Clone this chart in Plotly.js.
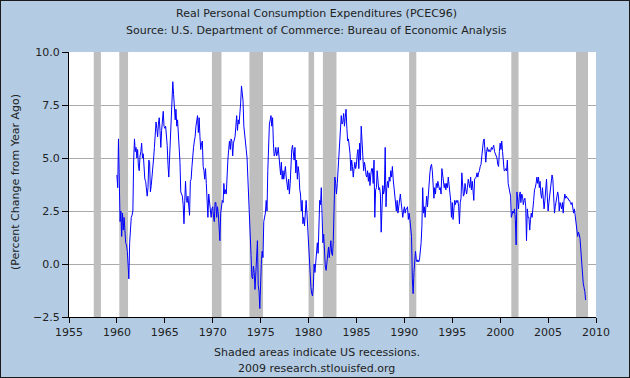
<!DOCTYPE html>
<html><head><meta charset="utf-8">
<script src="https://cdn.plot.ly/plotly-3.0.1.min.js"></script>
<style>
html,body{margin:0;padding:0;background:#b3cce4;}
#frame{width:630px;height:378px;box-sizing:border-box;border:1px solid #1a1a1a;background:#b3cce4;overflow:hidden;}
#chart{width:628px;height:376px;}
</style>
</head><body><div id="frame"><div id="chart"></div></div>
<script>
// Monthly year-over-year % change, starting January 1960
const startYear = 1960;
const pceYoY = [
  4.2, 3.6, 5.9, 4.2, 2.0, 2.5, 1.3, 2.4, 1.6, 2.2, 1.3, 1.0,   // 1960
  0.9, 0.6, 0.0, -0.7, 1.0, 1.9, 2.2, 2.3, 2.5, 4.9, 5.9, 5.3, // 1961
  5.5, 5.0, 5.4, 4.6, 4.4, 5.1, 5.3, 5.7, 5.0, 5.2, 4.4, 4.0,  // 1962
  3.9, 3.5, 3.2, 3.6, 4.9, 4.8, 3.4, 3.7, 4.3, 4.7, 5.0, 5.5,  // 1963
  6.0, 6.7, 6.4, 6.0, 6.6, 6.9, 6.3, 5.5, 6.3, 6.8, 7.2, 6.5,  // 1964
  6.4, 6.5, 6.2, 5.6, 4.7, 4.1, 5.0, 5.8, 6.6, 7.6, 8.6, 8.0,  // 1965
  7.4, 6.8, 7.3, 6.5, 6.8, 6.2, 5.5, 4.8, 3.4, 3.3, 3.2, 2.8,  // 1966
  1.9, 3.0, 3.9, 3.0, 2.9, 3.2, 2.7, 2.3, 3.9, 4.0, 4.6, 5.3,  // 1967
  5.5, 5.8, 6.0, 6.5, 6.9, 7.0, 6.2, 6.9, 6.0, 5.4, 5.7, 5.8,  // 1968
  4.6, 4.4, 4.0, 4.5, 3.8, 2.7, 2.2, 3.3, 2.9, 2.7, 2.2, 2.6,  // 1969
  2.7, 2.2, 2.0, 2.9, 2.9, 2.2, 2.7, 2.4, 1.6, 1.1, 2.4, 2.8,  // 1970
  3.0, 2.9, 3.8, 3.3, 3.5, 3.3, 4.3, 4.9, 5.4, 5.8, 5.4, 5.9,  // 1971
  5.8, 5.1, 5.7, 5.9, 6.0, 6.5, 7.0, 6.3, 6.8, 6.6, 7.0, 7.6,  // 1972
  8.4, 8.0, 7.7, 6.5, 6.0, 5.7, 5.4, 5.0, 4.2, 3.5, 2.2, 1.2,  // 1973
  0.4, -0.6, -0.7, -0.1, -0.4, -1.2, -0.4, 0.2, 1.1, -1.0, -1.3, -2.1, // 1974
  -0.2, 0.2, 0.6, 0.3, 2.0, 2.2, 2.4, 3.0, 2.5, 4.4, 5.8, 6.6, // 1975
  6.8, 7.0, 6.5, 6.9, 5.7, 5.1, 5.2, 5.5, 5.1, 5.2, 5.5, 5.0,  // 1976
  4.6, 4.2, 4.8, 4.0, 4.4, 4.0, 4.3, 4.6, 4.1, 3.6, 3.5, 4.0,  // 1977
  3.3, 3.8, 5.1, 5.4, 5.6, 5.1, 4.9, 5.5, 4.3, 4.9, 4.0, 4.6,  // 1978
  4.3, 3.5, 3.3, 2.5, 3.0, 1.9, 2.2, 1.8, 2.8, 3.0, 2.4, 1.6,  // 1979
  0.8, 0.3, -0.6, -1.1, -1.4, -1.5, -1.1, 0.0, -0.4, 0.0, 0.5, 1.0, // 1980
  0.5, 2.1, 3.0, 2.8, 3.6, 2.3, 1.0, 1.4, 0.2, -0.1, -0.3, 0.2, // 1981
  0.5, 0.8, 0.3, 0.6, 1.1, 0.5, 0.4, 1.1, 2.5, 4.1, 3.8, 3.3,  // 1982
  3.8, 4.4, 5.1, 5.6, 6.1, 7.0, 6.6, 6.7, 7.1, 6.5, 6.9, 7.3,  // 1983
  6.4, 5.8, 5.9, 5.5, 5.2, 4.4, 4.9, 4.6, 4.1, 4.5, 4.8, 4.5,  // 1984
  4.7, 5.2, 5.4, 4.5, 5.7, 4.9, 6.5, 5.8, 5.0, 4.4, 4.8, 4.6,  // 1985
  4.2, 4.1, 4.4, 3.9, 4.3, 3.7, 4.2, 4.5, 4.5, 3.8, 4.9, 2.2,  // 1986
  3.5, 3.6, 4.4, 3.8, 3.5, 3.6, 3.3, 1.5, 3.2, 3.7, 3.3, 3.5,  // 1987
  5.5, 2.7, 3.6, 3.9, 3.6, 4.1, 3.9, 4.4, 4.1, 4.6, 4.0, 3.6,  // 1988
  3.0, 2.9, 2.5, 3.0, 2.4, 2.7, 3.2, 3.3, 2.9, 2.6, 2.2, 2.5,  // 1989
  2.7, 2.4, 2.6, 2.6, 2.7, 2.1, 2.4, 2.1, 1.8, 1.3, -0.7, -1.4, // 1990
  -0.4, 0.5, 0.6, 0.2, 0.1, 0.2, 0.1, 0.2, 0.5, 1.0, 1.8, 3.6, // 1991
  2.4, 2.7, 2.2, 2.9, 3.2, 2.7, 3.3, 4.0, 4.3, 4.6, 4.7, 4.4,  // 1992
  3.3, 3.1, 3.6, 3.3, 3.8, 3.6, 3.9, 3.6, 3.5, 3.6, 3.3, 4.5,  // 1993
  4.1, 3.8, 3.6, 3.8, 3.5, 3.8, 3.6, 4.1, 3.8, 3.3, 3.0, 2.2,  // 1994
  2.9, 2.1, 2.8, 3.0, 2.8, 3.0, 2.9, 3.0, 2.7, 1.9, 2.9, 3.1,  // 1995
  4.3, 3.6, 3.2, 3.3, 3.8, 3.5, 3.3, 3.6, 4.0, 3.8, 3.6, 4.1,  // 1996
  3.5, 3.9, 3.3, 3.0, 4.0, 4.1, 4.1, 4.3, 4.1, 4.3, 4.4, 4.6,  // 1997
  4.7, 5.1, 5.5, 5.8, 5.9, 5.4, 4.8, 5.3, 5.5, 5.3, 5.4, 5.3,  // 1998
  5.3, 5.5, 5.4, 5.5, 5.6, 5.3, 5.2, 5.1, 5.0, 4.7, 4.6, 5.3,  // 1999
  5.7, 5.4, 5.8, 5.3, 4.6, 4.4, 4.4, 4.5, 4.4, 4.9, 3.8, 3.6,  // 2000
  3.5, 3.2, 2.2, 2.4, 2.5, 2.4, 2.6, 2.1, 0.9, 3.4, 2.9, 2.6,  // 2001
  3.2, 3.4, 2.9, 3.3, 3.2, 2.8, 3.0, 3.1, 2.7, 1.1, 2.6, 2.2,  // 2002
  2.2, 1.6, 2.1, 2.4, 2.2, 2.5, 3.0, 3.5, 3.6, 3.8, 4.1, 3.8,  // 2003
  4.1, 3.6, 3.9, 3.3, 3.1, 3.6, 2.8, 2.6, 3.0, 3.6, 4.0, 3.2,  // 2004
  2.5, 2.9, 3.3, 3.6, 4.0, 4.2, 4.0, 3.2, 2.4, 2.7, 3.0, 3.3,  // 2005
  3.4, 3.2, 2.5, 2.9, 2.7, 2.6, 2.9, 2.4, 3.0, 3.3, 3.1, 3.2,  // 2006
  3.1, 3.1, 3.0, 3.0, 2.9, 2.8, 2.9, 2.7, 2.4, 2.6, 2.2, 1.8,  // 2007
  1.5, 1.3, 1.5, 1.4, 1.2, 0.7, -0.2, -0.5, -0.9, -1.1, -1.3, -1.7 // 2008
];

const recessionStart = ['1957-08-01','1960-04-01','1969-12-01','1973-11-01','1980-01-01','1981-07-01','1990-07-01','2001-03-01','2007-12-01'];
const recessionEnd   = ['1958-05-01','1961-03-01','1970-12-01','1975-04-01','1980-08-01','1982-12-01','1991-04-01','2001-12-01','2009-03-01'];

const yTickVals = [-2.5, 0.0, 2.5, 5.0, 7.5, 10.0];
const yRange = [-2.5, 10.0];
const xRange = ['1955-01-01', '2010-01-01'];

const titleLines = ['Real Personal Consumption Expenditures (PCEC96)',
                    'Source: U.S. Department of Commerce: Bureau of Economic Analysis'];
const footerLines = ['Shaded areas indicate US recessions.', '2009 research.stlouisfed.org'];
const yTitle = '(Percent Change from Year Ago)';

// monthly dates
const dates = pceYoY.map((v, i) => {
  const y = startYear + Math.floor(i / 12);
  const m = (i % 12) + 1;
  return y + '-' + (m < 10 ? '0' + m : m) + '-01';
});

// recession shading polygons
const recX = [], recY = [];
recessionStart.forEach((s, i) => {
  const e = recessionEnd[i];
  recX.push(s, s, e, e, s, null);
  recY.push(yRange[0], yRange[1], yRange[1], yRange[0], yRange[0], null);
});

const FONT = 'DejaVu Sans, Verdana, sans-serif';
const TXT = '#222222';

const traces = [
  {x: recX, y: recY, type: 'scatter', mode: 'lines', fill: 'toself',
   fillcolor: '#bebebe', line: {width: 0, color: '#bebebe'}, hoverinfo: 'skip', showlegend: false},
  {x: dates, y: pceYoY, type: 'scatter', mode: 'lines',
   line: {color: '#0000ff', width: 1}, showlegend: false}
];

const layout = {
  width: 628, height: 376,
  margin: {l: 68, r: 33, t: 51, b: 60},
  paper_bgcolor: '#b3cce4',
  plot_bgcolor: '#ffffff',
  font: {family: FONT, size: 11, color: TXT},
  showlegend: false,
  xaxis: {
    type: 'date', range: xRange, tick0: '1955-01-01', dtick: 'M60', tickformat: '%Y',
    ticks: 'outside', ticklen: 5, tickcolor: '#000', tickwidth: 1,
    showline: true, linecolor: '#000', linewidth: 1, showgrid: false, zeroline: false,
    tickfont: {family: FONT, size: 11, color: TXT}, fixedrange: true
  },
  yaxis: {
    range: yRange, tickvals: yTickVals, tickformat: '.1f',
    ticks: 'outside', ticklen: 6, tickcolor: '#000', tickwidth: 1,
    showline: true, linecolor: '#000', linewidth: 1,
    showgrid: true, gridcolor: '#aaaaaa', gridwidth: 1, zeroline: false,
    tickfont: {family: FONT, size: 11, color: TXT}, fixedrange: true
  },
  annotations: [
    {text: titleLines[0], xref: 'paper', yref: 'paper', x: 0.47, y: 1.1434, xanchor: 'center', yanchor: 'middle', showarrow: false, font: {size: 11, color: TXT}},
    {text: titleLines[1], xref: 'paper', yref: 'paper', x: 0.47, y: 1.083, xanchor: 'center', yanchor: 'middle', showarrow: false, font: {size: 11, color: TXT}},
    {text: footerLines[0], xref: 'paper', yref: 'paper', x: 0.47, y: -0.1358, xanchor: 'center', yanchor: 'middle', showarrow: false, font: {size: 11, color: TXT}},
    {text: footerLines[1], xref: 'paper', yref: 'paper', x: 0.47, y: -0.1925, xanchor: 'center', yanchor: 'middle', showarrow: false, font: {size: 11, color: TXT}},
    {text: yTitle, xref: 'paper', yref: 'paper', x: -0.1025, y: 0.509, xanchor: 'center', yanchor: 'middle', textangle: -90, showarrow: false, font: {size: 11, color: TXT}}
  ]
};

Plotly.newPlot('chart', traces, layout, {displayModeBar: false, staticPlot: true});
</script></body></html>
